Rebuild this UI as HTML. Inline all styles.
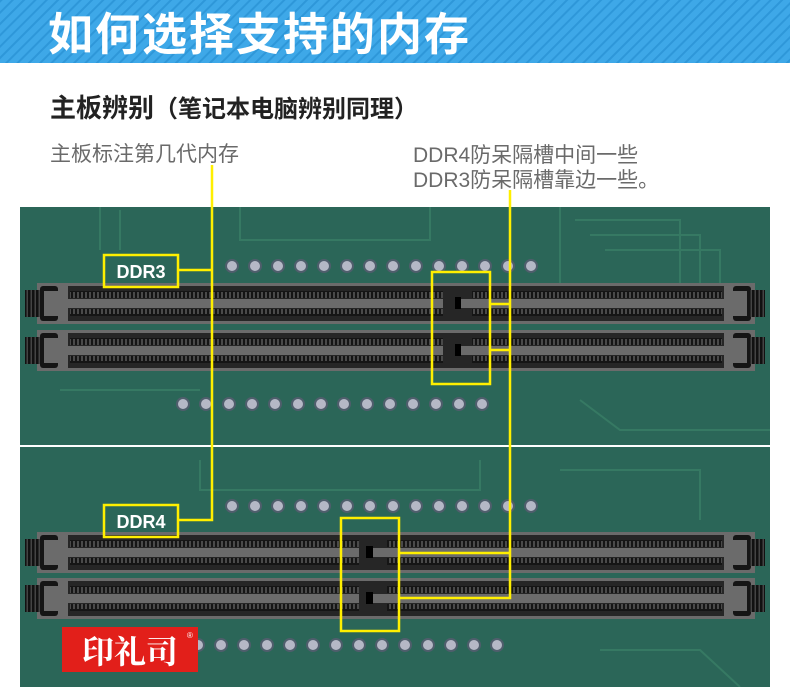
<!DOCTYPE html>
<html><head><meta charset="utf-8"><style>
html,body{margin:0;padding:0;width:790px;height:687px;overflow:hidden;background:#fff;font-family:"Liberation Sans","Noto Sans CJK SC",sans-serif}
</style></head><body>
<svg width="790" height="687" viewBox="0 0 790 687" xmlns="http://www.w3.org/2000/svg">
<defs>
<pattern id="stripe" width="8" height="8" patternUnits="userSpaceOnUse" patternTransform="rotate(45)">
<rect width="8" height="8" fill="#3ea8e8"/><rect width="2" height="8" fill="#2e97d9"/></pattern>
<pattern id="pins" width="4" height="8" patternUnits="userSpaceOnUse">
<rect width="4" height="8" fill="#151515"/><rect x="1" y="1" width="2" height="6" fill="#4a4a4a"/></pattern>
<pattern id="clip" width="4" height="40" patternUnits="userSpaceOnUse">
<rect width="4" height="40" fill="#111"/><rect x="2.5" width="1.5" height="40" fill="#444"/></pattern>
<g id="slot">
<rect x="37" y="0" width="718" height="41" fill="#6b6b6b"/>
<rect x="68" y="3" width="656" height="35" fill="#262626"/>
<rect x="70" y="8" width="652" height="7" fill="url(#pins)"/>
<rect x="70" y="26" width="652" height="7" fill="url(#pins)"/>
<rect x="68" y="16" width="656" height="9" fill="#6b6b6b"/>
<rect x="25" y="7" width="16" height="27" fill="url(#clip)"/>
<rect x="40" y="3" width="18" height="35" rx="3" fill="#151515"/>
<rect x="44" y="8" width="14" height="25" fill="#6b6b6b"/>
<rect x="733" y="3" width="18" height="35" rx="3" fill="#151515"/>
<rect x="733" y="8" width="14" height="25" fill="#6b6b6b"/>
<rect x="750" y="7" width="15" height="27" fill="url(#clip)"/>
</g>
<g id="pinrow" fill="#b5b8c6" stroke="#4f5e6c" stroke-width="2">
<circle cx="0" cy="0" r="6"/><circle cx="23" cy="0" r="6"/><circle cx="46" cy="0" r="6"/><circle cx="69" cy="0" r="6"/><circle cx="92" cy="0" r="6"/><circle cx="115" cy="0" r="6"/><circle cx="138" cy="0" r="6"/><circle cx="161" cy="0" r="6"/><circle cx="184" cy="0" r="6"/><circle cx="207" cy="0" r="6"/><circle cx="230" cy="0" r="6"/><circle cx="253" cy="0" r="6"/><circle cx="276" cy="0" r="6"/><circle cx="299" cy="0" r="6"/>
</g>
</defs>
<rect x="0" y="0" width="790" height="63" fill="url(#stripe)"/>
<text x="48" y="50" font-size="45" font-weight="bold" fill="#fff" letter-spacing="2" font-family="Liberation Sans,Noto Sans CJK SC,sans-serif">如何选择支持的内存</text>
<text x="50" y="117" font-size="26" font-weight="bold" fill="#222">主板辨别<tspan font-size="24">（笔记本电脑辨别同理）</tspan></text>
<text x="50" y="161" font-size="21" fill="#6a6a6a">主板标注第几代内存</text>
<text x="413" y="162" font-size="21" fill="#6a6a6a">DDR4防呆隔槽中间一些</text>
<text x="413" y="187" font-size="21" fill="#6a6a6a">DDR3防呆隔槽靠边一些。</text>
<rect x="20" y="207" width="750" height="238" fill="#2b6658"/>
<rect x="20" y="447" width="750" height="240" fill="#2b6658"/>
<g fill="none" stroke="#3c8268" stroke-width="2" opacity="0.7">
<path d="M240 207 V240 H430 V207"/><path d="M560 207 V300 M575 220 H680 V300 M590 235 H700 V300 M605 250 H720 V300"/>
<path d="M100 207 V250 M120 210 V250 M60 390 H200"/><path d="M580 400 L620 430 H770"/><path d="M600 650 H700 L740 687"/>
<path d="M200 460 V490 H480 V460"/><path d="M560 470 H700 V520"/>
</g>
<use href="#pinrow" x="232" y="266"/>
<use href="#pinrow" x="183" y="404"/>
<use href="#pinrow" x="232" y="506"/>
<use href="#pinrow" x="198" y="645"/>
<use href="#slot" x="0" y="283"/>
<use href="#slot" x="0" y="330"/>
<use href="#slot" x="0" y="532"/>
<use href="#slot" x="0" y="578"/>
<g fill="#262626"><rect x="443" y="288" width="29" height="33"/><rect x="443" y="335" width="29" height="33"/>
<rect x="359" y="537" width="28" height="33"/><rect x="359" y="583" width="28" height="33"/></g>
<g fill="#6b6b6b"><rect x="461" y="299" width="11" height="9"/><rect x="461" y="346" width="11" height="9"/>
<rect x="373" y="548" width="14" height="9"/><rect x="373" y="594" width="14" height="9"/></g>
<g fill="#000"><rect x="455" y="297" width="6" height="12"/><rect x="455" y="344" width="6" height="12"/>
<rect x="366" y="546" width="7" height="12"/><rect x="366" y="592" width="7" height="12"/></g>
<g fill="none" stroke="#ffef00" stroke-width="2.5">
<rect x="104" y="255" width="74" height="32"/>
<rect x="104" y="505" width="74" height="32"/>
<rect x="432" y="272" width="58" height="112"/>
<rect x="341" y="518" width="58" height="113"/>
<path d="M212 165 V520 H178 M178 270 H212"/>
<path d="M510 190 V598 H399 M399 553 H510 M490 304 H510 M490 350 H510"/>
</g>
<text x="141" y="278" font-size="18" font-weight="bold" fill="#fff" text-anchor="middle">DDR3</text>
<text x="141" y="528" font-size="18" font-weight="bold" fill="#fff" text-anchor="middle">DDR4</text>
<rect x="62" y="627" width="136" height="45" fill="#e21f1a"/>
<text x="130" y="663" font-size="32" font-weight="bold" fill="#fff" text-anchor="middle" font-family="Noto Serif CJK SC,serif">印礼司</text>
<text x="187" y="638" font-size="8" fill="#fff">®</text>
</svg>
</body></html>
